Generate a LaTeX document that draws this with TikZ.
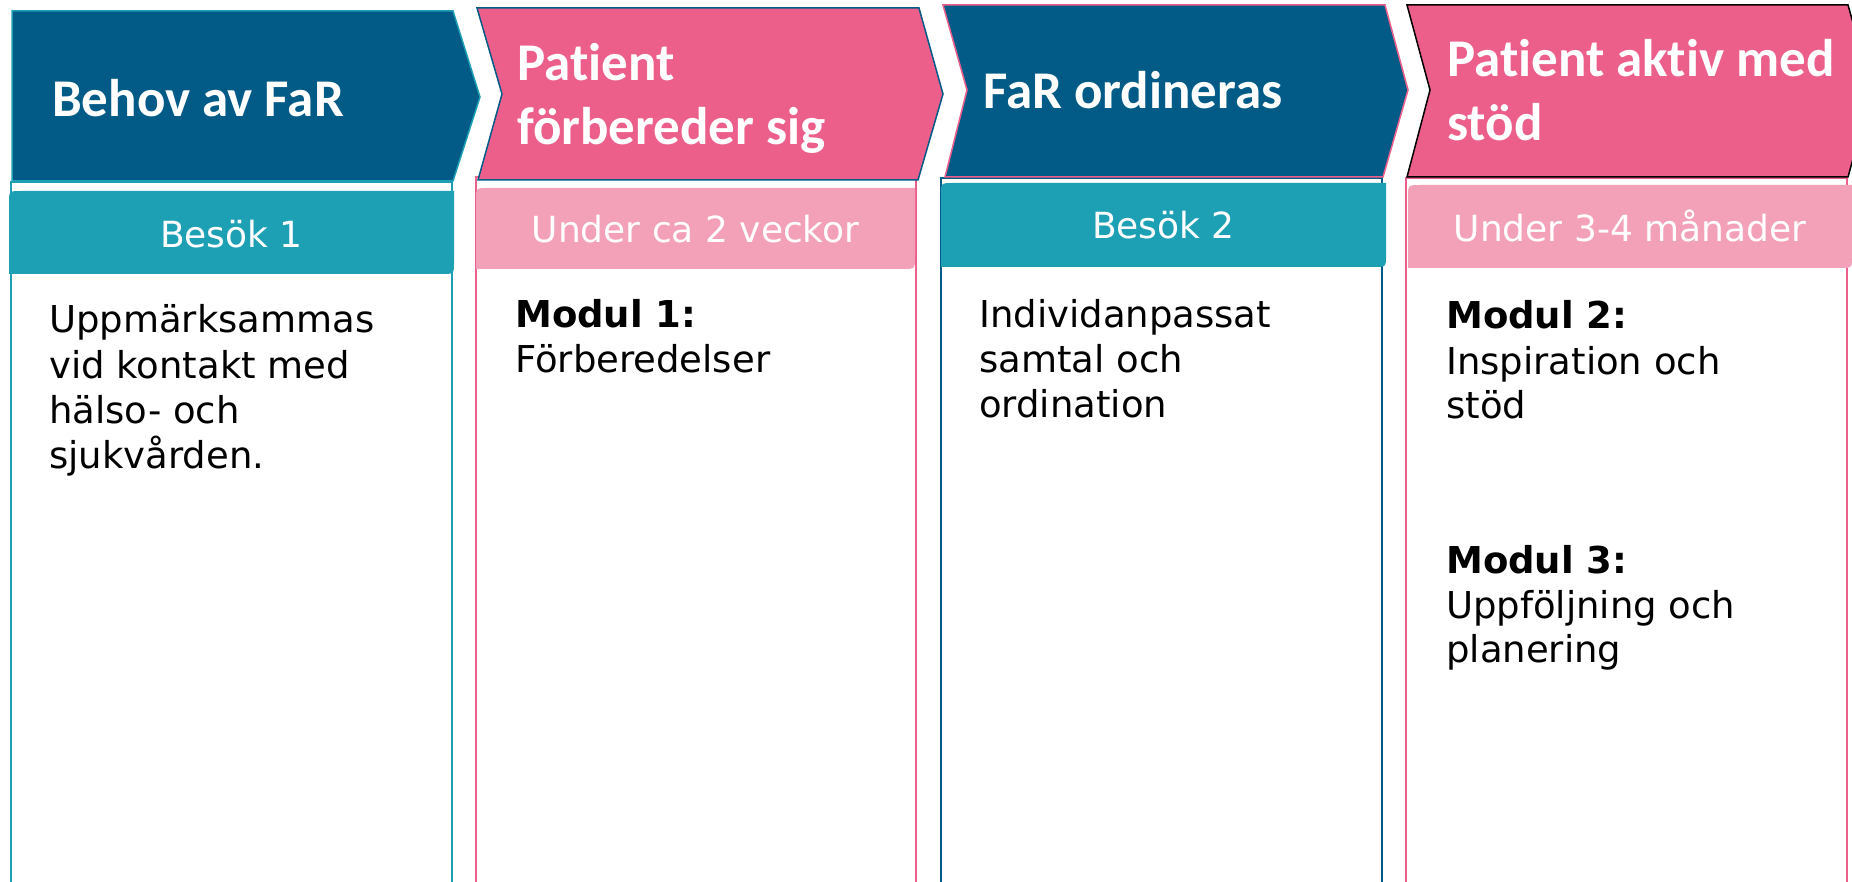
\documentclass[tikz,border=0pt]{standalone}
\usepackage{fontspec}
\setmainfont{DejaVu Sans}
\newfontfamily\headfont{Carlito}[Ligatures={NoCommon}]
\definecolor{navy}{RGB}{2,91,135}
\definecolor{hotpink}{RGB}{236,95,139}
\definecolor{tealc}{RGB}{30,160,180}
\definecolor{lightpink}{RGB}{243,160,185}
\tikzset{
  chev/.style={line width=1.5pt, line join=miter},
  colbox/.style={fill=white, line width=1.5pt},
  headtxt/.style={anchor=base west, inner sep=0pt, text=white, font=\headfont\bfseries\fontsize{53}{64}\selectfont},
  labtxt/.style={anchor=base, inner sep=0pt, text=white, font=\fontsize{36}{44}\selectfont},
  bodytxt/.style={anchor=base west, inner sep=0pt, text=black, font=\fontsize{37}{45}\selectfont},
  boldtxt/.style={bodytxt, font=\bfseries\fontsize{37}{45}\selectfont},
}
\newcommand{\diaglabel}[5]{% x1,y1,x2,y2,color
  \fill[#5] (#1,#4) -- (#1,#2+12) .. controls (#1,#2) .. (#1+12,#2) -- (#3,#2) -- (#3,#4-12) .. controls (#3,#4) .. (#3-12,#4) -- cycle;}
\begin{document}
\begin{tikzpicture}[x=1pt,y=-1pt]
\useasboundingbox (0,0) rectangle (1852,882);
\fill[white] (0,0) rectangle (1852,882);
% columns
\draw[colbox, draw=tealc] (11,900) -- (11,182) -- (452,182) -- (452,900);
\draw[colbox, draw=hotpink] (476,900) -- (476,177) -- (916,177) -- (916,900);
\draw[colbox, draw=navy] (941,900) -- (941,178) -- (1382,178) -- (1382,900);
\draw[colbox, draw=hotpink] (1406,900) -- (1406,178) -- (1847,178) -- (1847,900);
% chevrons
\draw[chev, fill=navy, draw=tealc] (12,11) -- (453,11) -- (480,97) -- (453,181) -- (12,181) -- cycle;
\draw[chev, fill=hotpink, draw=navy] (477,8) -- (919,8) -- (943,94) -- (918,180) -- (478,180) -- (502,94) -- cycle;
\draw[chev, fill=navy, draw=hotpink] (943,5) -- (1385,5) -- (1408,90) -- (1383,177) -- (945,177) -- (967,90) -- cycle;
\draw[chev, fill=hotpink, draw=black] (1407,5) -- (1848,5) -- (1872,90) -- (1848,177) -- (1407,177) -- (1430,90) -- cycle;
% labels
\diaglabel{9}{191}{454}{274}{tealc}
\diaglabel{476}{188}{915}{269}{lightpink}
\diaglabel{941}{183}{1386}{267}{tealc}
\diaglabel{1408}{185}{1852}{268}{lightpink}
% heading texts
\node[headtxt] (h1) at (52,117) {Behov av FaR};
\node[headtxt] (h2a) at (517,81) {Patient};
\node[headtxt] (h2b) at (517,145) {förbereder sig};
\node[headtxt] (h3) at (983,109) {FaR ordineras};
\node[headtxt] (h4a) at (1447,77) {Patient aktiv med};
\node[headtxt] (h4b) at (1447,141) {stöd};
% label texts
\node[labtxt] (l1) at (231.5,248) {Besök 1};
\node[labtxt] (l2) at (695.5,243) {Under ca 2 veckor};
\node[labtxt] (l3) at (1163.5,239) {Besök 2};
\node[labtxt] (l4) at (1630,242) {Under 3-4 månader};
% body texts
\node[bodytxt] (b1a) at (49,333) {Uppmärksammas};
\node[bodytxt] (b1b) at (49,378) {vid kontakt med};
\node[bodytxt] (b1c) at (49,423) {hälso- och};
\node[bodytxt] (b1d) at (49,468) {sjukvården.};
\node[boldtxt] (b2a) at (515,328) {Modul 1:};
\node[bodytxt] (b2b) at (515,373) {Förberedelser};
\node[bodytxt] (b3a) at (979,328) {Individanpassat};
\node[bodytxt] (b3b) at (979,373) {samtal och};
\node[bodytxt] (b3c) at (979,417) {ordination};
\node[boldtxt] (b4a) at (1446,329) {Modul 2:};
\node[bodytxt] (b4b) at (1446,374) {Inspiration och};
\node[bodytxt] (b4c) at (1446,418) {stöd};
\node[boldtxt] (b4d) at (1446,573) {Modul 3:};
\node[bodytxt] (b4e) at (1446,618) {Uppföljning och};
\node[bodytxt] (b4f) at (1446,662) {planering};
\end{tikzpicture}
\end{document}
